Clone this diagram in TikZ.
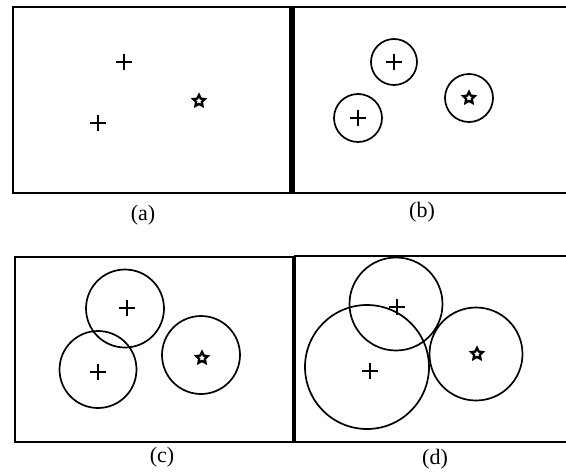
\documentclass[tikz,border=0pt]{standalone}
\usepackage{fontspec}
\setmainfont{Liberation Serif}
\usetikzlibrary{shapes.geometric}
\tikzset{
  frame/.style={line width=2.4pt},
  ring/.style={circle, draw, line width=1.7pt, inner sep=0pt},
  starmk/.style={star, star points=5, star point ratio=2.0, draw, line width=2.3pt, minimum size=12pt, inner sep=0pt},
  plusmk/.pic={\draw[line width=1.9pt] (-8,0)--(8,0) (0,-8)--(0,8);},
  lbl/.style={font=\fontsize{22}{24}\selectfont, inner sep=0pt}
}
\begin{document}
\begin{tikzpicture}[x=1pt,y=-1pt]
\useasboundingbox (0,0) rectangle (566,474);
% frames
\draw[frame] (12.7,6.7) rectangle (290.5,193);
\draw[frame] (566,6.7) -- (293.5,6.7) -- (293.5,193) -- (566,193);
\draw[frame] (15,257) rectangle (293,442);
\draw[frame] (566,256) -- (295,256) -- (295,442) -- (566,442);
% (a)
\pic at (124,62) {plusmk};
\pic at (98,123) {plusmk};
\node[starmk] (sa) at (199,101) {};
\node[lbl] (la) at (143,215) {(a)};
% (b)
\node[ring, minimum size=46pt] (b1) at (394,62) {};
\pic at (394,62) {plusmk};
\node[ring, minimum size=48pt] (b2) at (358,118) {};
\pic at (358,118) {plusmk};
\node[ring, minimum size=48pt] (b3) at (469,98) {};
\node[starmk] (sb) at (469,98) {};
\node[lbl] (lb) at (422,212) {(b)};
% (c)
\node[ring, minimum size=78pt] (c1) at (125,308.5) {};
\pic at (127,308) {plusmk};
\node[ring, minimum size=77pt] (c2) at (98,369.5) {};
\pic at (98,372) {plusmk};
\node[ring, minimum size=78pt] (c3) at (201,355) {};
\node[starmk] (sc) at (202,358) {};
\node[lbl] (lc) at (162,457) {(c)};
% (d)
\node[ring, minimum size=93pt] (d1) at (396,304) {};
\pic at (397,307) {plusmk};
\node[ring, minimum size=124pt] (d2) at (367,367) {};
\pic at (370,371) {plusmk};
\node[ring, minimum size=93pt] (d3) at (476,354) {};
\node[starmk] (sd) at (477,354) {};
\node[lbl] (ld) at (435,459) {(d)};
\end{tikzpicture}
\end{document}
